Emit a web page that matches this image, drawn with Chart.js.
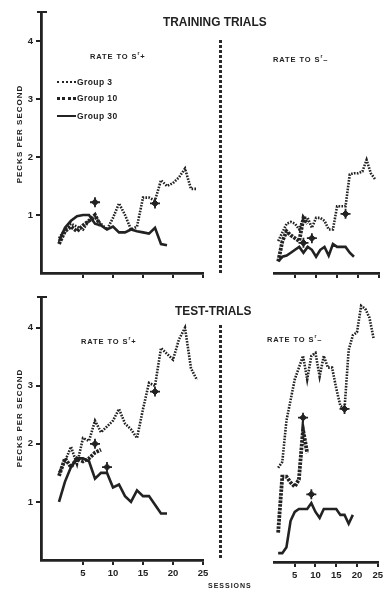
<!DOCTYPE html>
<html>
<head>
<meta charset="utf-8">
<script src="https://cdn.jsdelivr.net/npm/chart.js@4/dist/chart.umd.min.js"></script>
<style>
  body { margin: 0; background: #fff; }
  #wrap { position: relative; width: 386px; height: 591px; overflow: hidden; font-family: "Liberation Sans", Arial, sans-serif; font-weight: bold; color: #222; }
  canvas { position: absolute; }
  .t { position: absolute; white-space: nowrap; line-height: 1; }
  .title { font-size: 12.5px; letter-spacing: 0; transform: scaleX(0.95); transform-origin: left; }
  .rate { font-size: 7.5px; letter-spacing: 0.9px; }
  .rate sup { font-size: 5px; }
  .ytitle { font-size: 8px; letter-spacing: 1px; width: 120px; text-align: center; transform: rotate(-90deg); }
  .leg { font-size: 8.5px; letter-spacing: 0.4px; }
  .sample { position: absolute; width: 19px; height: 0; }
  .sep { position: absolute; width: 3px; background: repeating-linear-gradient(to bottom, #2a2a2a 0 3px, transparent 3px 5px); }
  .cap { position: absolute; background: #222; }
</style>
</head>
<body>
<div id="wrap">
  <canvas id="tl" width="212" height="290" style="left:0;top:0"></canvas>
  <canvas id="tr" width="161" height="290" style="left:225px;top:0"></canvas>
  <canvas id="bl" width="212" height="301" style="left:0;top:290px"></canvas>
  <canvas id="br" width="161" height="301" style="left:225px;top:290px"></canvas>

  <div class="t title" style="left:163px;top:16px">TRAINING TRIALS</div>
  <div class="t title" style="left:175px;top:305px">TEST-TRIALS</div>

  <div class="t rate" style="left:90px;top:51px">RATE TO S<sup>r</sup>+</div>
  <div class="t rate" style="left:273px;top:54px">RATE TO S<sup>r</sup>&#8211;</div>
  <div class="t rate" style="left:81px;top:336px">RATE TO S<sup>r</sup>+</div>
  <div class="t rate" style="left:267px;top:334px">RATE TO S<sup>r</sup>&#8211;</div>

  <div class="t ytitle" style="left:-40px;top:130px">PECKS PER SECOND</div>
  <div class="t ytitle" style="left:-40px;top:414px">PECKS PER SECOND</div>

  <div class="sample" style="left:57px;top:81px;border-top:2px dotted #222"></div>
  <div class="t leg" style="left:77px;top:78px">Group 3</div>
  <div class="sample" style="left:57px;top:97px;border-top:3px dotted #222"></div>
  <div class="t leg" style="left:77px;top:94px">Group 10</div>
  <div class="sample" style="left:57px;top:115px;border-top:2px solid #222"></div>
  <div class="t leg" style="left:77px;top:112px">Group 30</div>

  <div class="sep" style="left:219px;top:40px;height:235px"></div>
  <div class="sep" style="left:219px;top:325px;height:235px"></div>

  <div class="cap" style="left:37px;top:11px;width:10px;height:2px"></div>
  <div class="cap" style="left:37px;top:296px;width:10px;height:2px"></div>

  <div class="t" style="left:208px;top:582px;font-size:7px;letter-spacing:1px">SESSIONS</div>
</div>

<script>
const sessionTicks = [5, 10, 15, 20, 25];
const valueTicks = [1, 2, 3, 4];

// training trials, rate to S+
const trainPlusG3 = [0.6, 0.75, 0.85, 0.8, 0.75, 0.9, 0.95, 0.85, 0.75, 0.95, 1.2, 1.0, 0.75, 0.8, 1.3, 1.3, 1.25, 1.6, 1.5, 1.55, 1.65, 1.8, 1.45, 1.45];
const trainPlusG10 = [0.5, 0.72, 0.8, 0.72, 0.82, 0.9, 1.0, 0.8];
const trainPlusG30 = [0.55, 0.78, 0.9, 0.98, 1.0, 1.0, 0.85, 0.82, 0.75, 0.8, 0.7, 0.7, 0.75, 0.72, 0.7, 0.68, 0.78, 0.5, 0.48];
const trainPlusMarkX = [7, 17];
const trainPlusMarkY = [1.22, 1.2];

// training trials, rate to S-
const trainMinusG3 = [0.55, 0.7, 0.85, 0.88, 0.85, 0.75, 0.95, 0.95, 0.78, 0.95, 0.95, 0.9, 0.75, 0.75, 1.15, 1.15, 1.15, 1.7, 1.72, 1.72, 1.75, 1.95, 1.72, 1.62];
const trainMinusG10 = [0.2, 0.55, 0.72, 0.65, 0.6, 0.55, 0.95, 0.85];
const trainMinusG30 = [0.2, 0.28, 0.3, 0.35, 0.4, 0.45, 0.35, 0.45, 0.4, 0.28, 0.4, 0.45, 0.3, 0.5, 0.45, 0.45, 0.45, 0.35, 0.28];
const trainMinusMarkX = [7, 9, 17];
const trainMinusMarkY = [0.52, 0.6, 1.02];

// test trials, rate to S+
const testPlusG3 = [1.5, 1.7, 1.95, 1.65, 2.1, 2.05, 2.4, 2.2, 2.3, 2.4, 2.6, 2.35, 2.25, 2.1, 2.6, 3.05, 3.0, 3.65, 3.55, 3.45, 3.8, 4.0, 3.3, 3.1];
const testPlusG10 = [1.45, 1.75, 1.6, 1.75, 1.7, 1.75, 1.85, 1.9];
const testPlusG30 = [1.0, 1.35, 1.6, 1.75, 1.75, 1.7, 1.4, 1.5, 1.5, 1.25, 1.3, 1.1, 1.0, 1.2, 1.1, 1.1, 0.95, 0.8, 0.8];
const testPlusMarkX = [7, 9, 17];
const testPlusMarkY = [2.0, 1.6, 2.9];

// test trials, rate to S-
const testMinusG3 = [1.6, 1.7, 2.4, 2.75, 3.1, 3.3, 3.5, 3.1, 3.5, 3.55, 3.15, 3.5, 3.3, 3.3, 2.95, 2.65, 2.6, 3.6, 3.85, 3.9, 4.35, 4.3, 4.15, 3.8];
const testMinusG10 = [0.5, 1.45, 1.45, 1.35, 1.28, 1.4, 2.25, 1.85];
const testMinusG30 = [0.15, 0.15, 0.25, 0.7, 0.85, 0.9, 0.9, 0.9, 1.0, 0.85, 0.75, 0.9, 0.9, 0.9, 0.9, 0.8, 0.8, 0.65, 0.8];
const testMinusMarkX = [7, 9, 17];
const testMinusMarkY = [2.45, 1.15, 2.6];

const ink = '#222';
const font = { family: 'Liberation Sans', weight: 'bold', size: 9.5 };

function pts(vals) {
  return vals.map((v, i) => ({ x: i + 1, y: v }));
}

function panel(id, g3, g10, g30, markX, markY, o) {
  const marks = markX.map((x, i) => ({ x: x, y: markY[i] }));
  new Chart(document.getElementById(id), {
    type: 'line',
    data: {
      datasets: [
        { label: 'Group 3', data: pts(g3), borderColor: ink, borderWidth: 2.6, borderDash: [1.6, 1.3], pointRadius: 0, tension: 0 },
        { label: 'Group 10', data: pts(g10), borderColor: ink, borderWidth: 3.8, borderDash: [2.6, 1.1], pointRadius: 0, tension: 0 },
        { label: 'Group 30', data: pts(g30), borderColor: ink, borderWidth: 2.6, pointRadius: 0, tension: 0 },
        { type: 'scatter', data: marks, pointStyle: 'rectRot', pointRadius: 3.4, backgroundColor: ink, borderColor: ink, borderWidth: 1 },
        { type: 'scatter', data: marks, pointStyle: 'cross', pointRadius: 5, borderColor: ink, borderWidth: 1.8 }
      ]
    },
    options: {
      responsive: false,
      animation: false,
      devicePixelRatio: 1,
      layout: { padding: o.pad },
      plugins: { legend: { display: false }, tooltip: { enabled: false } },
      scales: {
        x: {
          type: 'linear',
          min: o.xmin,
          max: 25,
          afterBuildTicks: s => { s.ticks = sessionTicks.map(v => ({ value: v })); },
          afterFit: s => { s.height = o.xh; },
          ticks: { display: o.xlabels, font: font, color: ink, padding: 3 },
          grid: { drawOnChartArea: false, drawTicks: true, tickLength: 5, color: ink, lineWidth: 2 },
          border: { display: true, color: ink, width: 2.8 }
        },
        y: {
          display: o.yaxis,
          min: 0,
          max: 4.5,
          afterBuildTicks: s => { s.ticks = valueTicks.map(v => ({ value: v })); },
          afterFit: s => { s.width = 41; },
          ticks: { font: font, color: ink, padding: 3 },
          grid: { drawOnChartArea: false, drawTicks: true, tickLength: 5, color: ink, lineWidth: 2 },
          border: { display: true, color: ink, width: 2.8 }
        }
      }
    }
  });
}

try {
  panel('tl', trainPlusG3, trainPlusG10, trainPlusG30, trainPlusMarkX, trainPlusMarkY,
    { pad: { top: 12, right: 9, left: 0, bottom: 0 }, xmin: -2, xh: 17, xlabels: false, yaxis: true });
  panel('tr', trainMinusG3, trainMinusG10, trainMinusG30, trainMinusMarkX, trainMinusMarkY,
    { pad: { top: 12, right: 3, left: 8, bottom: 0 }, xmin: 0, xh: 17, xlabels: false, yaxis: false });
  panel('bl', testPlusG3, testPlusG10, testPlusG30, testPlusMarkX, testPlusMarkY,
    { pad: { top: 7, right: 9, left: 0, bottom: 0 }, xmin: -2, xh: 31, xlabels: true, yaxis: true });
  panel('br', testMinusG3, testMinusG10, testMinusG30, testMinusMarkX, testMinusMarkY,
    { pad: { top: 7, right: 3, left: 8, bottom: 0 }, xmin: 0, xh: 29, xlabels: true, yaxis: false });
} catch (error) {
  console.log(error);
}
</script>
</body>
</html>
